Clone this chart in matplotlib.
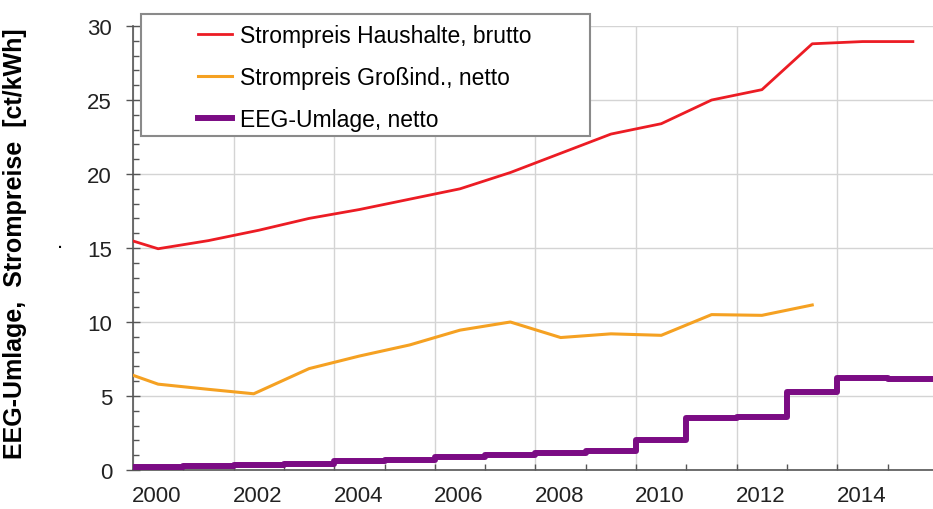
import matplotlib
matplotlib.use("Agg")
import matplotlib.pyplot as plt
import matplotlib.transforms as mtransforms
from matplotlib.patches import Rectangle

plt.rcParams['font.family'] = ['Liberation Sans', 'DejaVu Sans']

# prices are plotted at mid-year, EEG levy as yearly steps
price_years = [1999.5, 2000.5, 2001.5, 2002.5, 2003.5, 2004.5, 2005.5, 2006.5,
               2007.5, 2008.5, 2009.5, 2010.5, 2011.5, 2012.5, 2013.5, 2014.5, 2015.5]
haushalte = [16.0, 14.95, 15.5, 16.2, 17.0, 17.6, 18.3, 19.0,
             20.1, 21.4, 22.7, 23.4, 25.0, 25.7, 28.8, 28.95, 28.95]

ind_years = [1999.5, 2000.5, 2001.5, 2002.4, 2003.5, 2004.5, 2005.5, 2006.5,
             2007.5, 2008.5, 2009.5, 2010.5, 2011.5, 2012.5, 2013.5]
grossind = [7.0, 5.8, 5.45, 5.15, 6.85, 7.7, 8.45, 9.45,
            10.0, 8.95, 9.2, 9.1, 10.5, 10.45, 11.15]

eeg_years = [2000, 2001, 2002, 2003, 2004, 2005, 2006, 2007, 2008,
             2009, 2010, 2011, 2012, 2013, 2014, 2015, 2016]
eeg = [0.20, 0.25, 0.35, 0.41, 0.58, 0.69, 0.88, 1.02, 1.16,
       1.31, 2.05, 3.53, 3.59, 5.28, 6.24, 6.17, 6.17]

labels = ['Strompreis Haushalte, brutto', 'Strompreis Großind., netto', 'EEG-Umlage, netto']

fig = plt.figure(figsize=(9.33, 5.10), dpi=100)
ax = fig.add_axes([0.1425, 0.0765, 0.8575, 0.8705])

ax.plot(price_years, haushalte, color='#ec1c24', lw=2.0, label=labels[0], zorder=3)
ax.plot(ind_years, grossind, color='#f5a122', lw=2.2, label=labels[1], zorder=3)
ax.step(eeg_years, eeg, where='post', color='#7b0c84', lw=4.3, label=labels[2], zorder=3)

ax.set_xlim(2000, 2015.9)
ax.set_ylim(0, 30)

ax.set_xticks(range(2000, 2016, 2))
ax.set_xticks(range(2001, 2016, 2), minor=True)
ax.set_yticks(range(0, 31, 5))
ax.set_yticks(range(0, 31, 1), minor=True)

ax.grid(True, which='major', color='#d4d4d4', lw=1.0, zorder=0)
ax.set_axisbelow(True)

for s in ['top', 'right']:
    ax.spines[s].set_visible(False)
for s in ['left', 'bottom']:
    ax.spines[s].set_color('#555555')
    ax.spines[s].set_linewidth(1.2)

ax.tick_params(axis='y', which='major', direction='inout', length=10, width=1,
               color='#555555', pad=10, labelsize=16, labelcolor='#222222')
ax.tick_params(axis='y', which='minor', direction='in', length=4, width=1, color='#555555')
ax.tick_params(axis='x', which='both', direction='in', length=4, width=1,
               color='#555555', pad=11, labelsize=16, labelcolor='#222222')

# labels sit in the middle of the year
shift = mtransforms.ScaledTranslation(0.24, 0, fig.dpi_scale_trans)
for lab in ax.get_xticklabels():
    lab.set_transform(lab.get_transform() + shift)

ax.set_ylabel('EEG-Umlage,  Strompreise  [ct/kWh]', fontsize=18, fontweight='bold')
ax.yaxis.set_label_coords(-0.133, 0.513)
ax.text(-0.091, 0.515, '.', transform=ax.transAxes, fontsize=16, ha='center', va='center')

# legend frame
ax.add_patch(Rectangle((0.1511, 0.7314), 0.4812, 0.2392, transform=fig.transFigure,
                       facecolor='white', edgecolor='#8a8a8a', lw=1.5, zorder=4, clip_on=False))
leg = ax.legend(loc='upper left', bbox_to_anchor=(0.2122, 0.950), bbox_transform=fig.transFigure,
                frameon=False, fontsize=16.5, handlelength=1.5, handletextpad=0.35,
                labelspacing=0.82, borderpad=0, borderaxespad=0)
leg.set_zorder(6)

fig.savefig('out.png', dpi=100)
